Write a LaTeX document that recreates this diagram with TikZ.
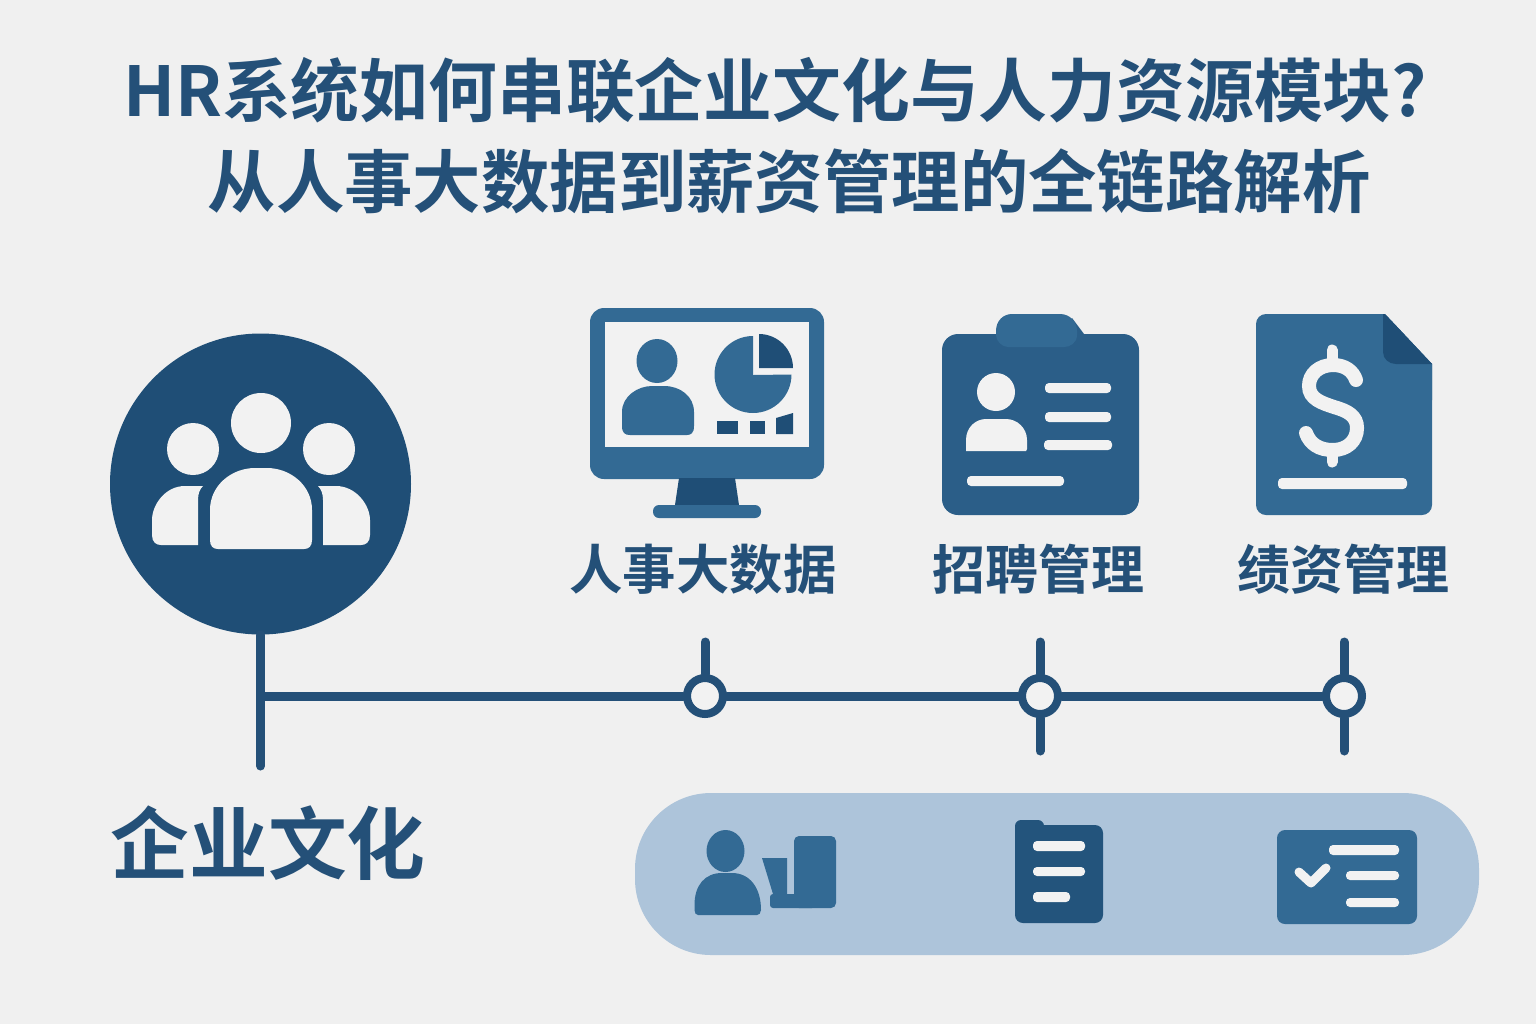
\documentclass[tikz,border=0pt]{standalone}
\usepackage{fontspec}
\setmainfont{Noto Sans CJK SC}[BoldFont={Noto Sans CJK SC Bold}]
\newfontfamily\cjkb{Noto Sans CJK SC Bold}
\definecolor{bgc}{HTML}{F0F0F0}
\definecolor{midb}{HTML}{336A94}
\definecolor{darkb}{HTML}{1F4E76}
\definecolor{textb}{HTML}{245078}
\definecolor{pillb}{HTML}{ADC4DA}
\definecolor{boardb}{HTML}{2B5E88}
\definecolor{lightc}{HTML}{F2F2F2}
\tikzset{
  title/.style={text=textb,inner sep=0pt,anchor=center},
  lab/.style={font=\cjkb\fontsize{26.5}{26.5}\selectfont,text=textb,inner sep=0pt,anchor=center},
  junction/.style={circle,draw=textb,fill=lightc,line width=4pt,minimum size=18pt,inner sep=0pt},
  axis/.style={draw=textb,line width=4.5pt,line cap=round},
  bar/.style={fill=lightc,rounded corners=2pt},
}
\begin{document}
\begin{tikzpicture}[x=0.5pt,y=-0.5pt]
\useasboundingbox (0,0) rectangle (1536,1024);
\fill[bgc] (0,0) rectangle (1536,1024);
% title
\node[title,font=\cjkb\fontsize{34.4}{34.4}\selectfont] (t1) at (775,90) {HR系统如何串联企业文化与人力资源模块?};
\node[title,font=\cjkb\fontsize{34.2}{34.2}\selectfont] (t2) at (789,181) {从人事大数据到薪资管理的全链路解析};
% culture circle
\node[circle,fill=darkb,minimum size=150.5pt,inner sep=0pt] (culture) at (260.5,484) {};
\fill[lightc] (193,449) circle (26);
\fill[lightc] (329,449) circle (26);
\fill[lightc] (261,423) circle (30);
\fill[lightc] (198,545) -- (198,500) .. controls (198,493) and (200,489) .. (203,486) -- (185,486) .. controls (165,486) and (152,505) .. (152,520) -- (152,535) .. controls (152,542) and (156,545) .. (161,545) -- cycle;
\fill[lightc] (323,545) -- (323,500) .. controls (323,493) and (321,489) .. (318,486) -- (336,486) .. controls (356,486) and (370,505) .. (370,520) -- (370,535) .. controls (370,542) and (366,545) .. (361,545) -- cycle;
\fill[lightc] (210,540) -- (210,510) .. controls (210,485) and (232,468) .. (255,468) -- (267,468) .. controls (290,468) and (312,485) .. (312,510) -- (312,540) .. controls (312,546) and (309,549) .. (304,549) -- (218,549) .. controls (213,549) and (210,546) .. (210,540) -- cycle;
% monitor
\fill[midb,rounded corners=7pt] (590,308) rectangle (824,479);
\fill[lightc] (605,322) rectangle (809,447);
\fill[darkb] (679,478) -- (735,478) -- (739,505) -- (675,505) -- cycle;
\fill[midb,rounded corners=3pt] (653,505) rectangle (761,518);
\fill[midb] (657,361) ellipse (20.5 and 22);
\fill[midb] (622,426) -- (622,412) .. controls (622,396) and (638,386) .. (652,386) -- (664,386) .. controls (680,386) and (694,396) .. (694,412) -- (694,426) .. controls (694,433) and (691,435) .. (687,435) -- (630,435) .. controls (625,435) and (622,433) .. (622,426) -- cycle;
\fill[midb] (753,375) -- (753,336) arc[start angle=-90,end angle=-360,radius=38.5] -- cycle;
\fill[darkb] (759,368) -- (759,334) arc[start angle=-90,end angle=0,radius=34] -- cycle;
\fill[darkb] (717,421) rectangle (738,434);
\fill[darkb] (750,421) rectangle (765,434);
\fill[darkb] (776,434) -- (776,418) -- (793,413) -- (793,434) -- cycle;
% clipboard
\fill[boardb,rounded corners=8pt] (942,334) rectangle (1139,515);
\fill[boardb] (1060,334) -- (1072,318) -- (1084,334) -- cycle;
\fill[midb] (1012,314) -- (1060,314) .. controls (1070,314) and (1077,322) .. (1077,331) -- (1077,335) .. controls (1077,343) and (1070,347) .. (1064,347) -- (1008,347) .. controls (1002,347) and (996,341) .. (996,335) -- (996,331) .. controls (996,321) and (1003,314) .. (1012,314) -- cycle;
\fill[lightc] (996,392) circle (19);
\fill[lightc] (966,451) -- (966,440) .. controls (966,427) and (976,419) .. (986,419) -- (1006,419) .. controls (1017,419) and (1027,428) .. (1027,440) -- (1027,449) -- (1026,451) -- cycle;
\fill[bar] (1045,383) rectangle (1111,393);
\fill[bar] (1045,412) rectangle (1111,422);
\fill[bar] (1044,440) rectangle (1112,450);
\fill[bar] (967,476) rectangle (1064,486);
% pay document
\fill[midb,rounded corners=5pt] (1256,314) -- (1385,314) [sharp corners] -- (1432,364) [rounded corners=5pt] -- (1432,515) -- (1256,515) -- cycle;
\fill[midb] (1300,314) -- (1385,314) -- (1432,364) -- (1432,400) -- (1300,400) -- cycle;
\fill[darkb] (1385,314) -- (1432,364) -- (1396,364) .. controls (1389,364) and (1383,359) .. (1383,352) -- (1383,314) -- cycle;
\draw[lightc,line width=5.5pt,line cap=round] (1332,350) -- (1332,365);
\draw[lightc,line width=5.5pt,line cap=round] (1332,450) -- (1332,462);
\draw[lightc,line width=7pt,line cap=round] (1356,380) .. controls (1353,371) and (1345,365) .. (1333,365) .. controls (1319,365) and (1309,374) .. (1309,386) .. controls (1309,399) and (1322,403) .. (1334,407) .. controls (1348,411) and (1357,416) .. (1357,428) .. controls (1357,441) and (1347,450) .. (1333,450) .. controls (1319,450) and (1310,444) .. (1306,433);
\fill[bar] (1278,478) rectangle (1407,489);
% labels
\node[lab,font=\cjkb\fontsize{26.7}{26.7}\selectfont] (l1) at (703,569) {人事大数据};
\node[lab] (l2) at (1038,569) {招聘管理};
\node[lab] (l3) at (1343,569) {绩资管理};
\node[lab,font=\cjkb\fontsize{39.4}{39.4}\selectfont] (l0) at (268,843) {企业文化};
% timeline
\coordinate (tee) at (260.5,696);
\coordinate (stemend) at (260.5,766);
\coordinate (a1) at (705,642);
\coordinate (a2) at (1040,642);
\coordinate (b2) at (1040,751);
\coordinate (a3) at (1344,642);
\coordinate (b3) at (1344,751);
\node[junction] (n1) at (705,696) {};
\node[junction] (n2) at (1040,696) {};
\node[junction] (n3) at (1344,696) {};
\draw[axis] (culture.south) -- (stemend);
\draw[axis] (tee) -- (n1);
\draw[axis] (n1) -- (n2);
\draw[axis] (n2) -- (n3);
\draw[axis] (a1) -- (n1);
\draw[axis] (a2) -- (n2);
\draw[axis] (n2) -- (b2);
\draw[axis] (a3) -- (n3);
\draw[axis] (n3) -- (b3);
% pill
\fill[pillb,rounded corners=38pt] (635,793) rectangle (1479,955);
% pill icon 1
\fill[midb] (725.5,851) ellipse (19 and 21);
\fill[midb] (694.5,910) -- (694.5,905) .. controls (694.5,885) and (705,873) .. (722,873) -- (732,873) .. controls (750,873) and (761,888) .. (761,910) .. controls (761,913) and (759,915) .. (757,915) -- (698,915) .. controls (696,915) and (694.5,913) .. (694.5,910) -- cycle;
\fill[midb,rounded corners=2.5pt] (794,836) rectangle (836,908);
\fill[midb,rounded corners=1.5pt] (770,894) rectangle (815,908);
\fill[midb] (762,858) -- (787,858) -- (787,894) -- (773,894) -- cycle;
% pill icon 2
\fill[darkb!80!midb,rounded corners=4pt] (1015,825) rectangle (1103,923);
\fill[darkb!80!midb,rounded corners=3pt] (1015,820) rectangle (1044,840);
\fill[bar] (1033,841) rectangle (1085,851);
\fill[bar] (1033,867) rectangle (1085,876);
\fill[bar] (1033,892) rectangle (1070,902);
% pill icon 3
\fill[midb,rounded corners=4pt] (1277,830) rectangle (1417,924);
\fill[bar] (1329,845) rectangle (1399,855);
\fill[bar] (1346,871) rectangle (1399,880);
\fill[bar] (1346,898) rectangle (1399,907);
\draw[lightc,line width=4.5pt,line cap=round,line join=round] (1299,872) -- (1311,883) -- (1326,868);
\end{tikzpicture}
\end{document}
